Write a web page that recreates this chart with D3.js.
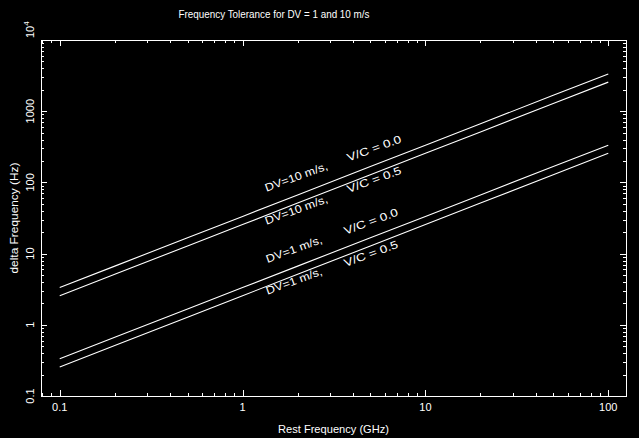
<!DOCTYPE html>
<html><head><meta charset="utf-8">
<script src="https://cdn.jsdelivr.net/npm/d3@7/dist/d3.min.js"></script>
<style>
html,body{margin:0;padding:0;background:#000;}
svg{display:block;}
text{font-family:"Liberation Sans","DejaVu Sans",sans-serif;fill:#fff;}
</style></head>
<body>
<svg id="c" width="639" height="438"></svg>
<script>
// ---- data ----
const freqGHz = [0.1, 0.2, 0.5, 1, 2, 5, 10, 20, 50, 100];
const dv1_vc00 = [0.333, 0.667, 1.67, 3.33, 6.67, 16.7, 33.3, 66.7, 167, 333];
const dv1_vc05 = [0.256, 0.512, 1.28, 2.56, 5.12, 12.8, 25.6, 51.2, 128, 256];
const dv10_vc00 = [3.33, 6.67, 16.7, 33.3, 66.7, 167, 333, 667, 1670, 3330];
const dv10_vc05 = [2.56, 5.12, 12.8, 25.6, 51.2, 128, 256, 512, 1280, 2560];
const xTickVals = [0.1, 1, 10, 100];
const xTickLabels = ["0.1", "1", "10", "100"];
const yTickVals = [0.1, 1, 10, 100, 1000, 10000];
const yTickLabels = ["0.1", "1", "10", "100", "1000", "10^4"];
const labelText = ["DV=10 m/s,", "V/C = 0.0", "DV=10 m/s,", "V/C = 0.5", "DV=1 m/s,", "V/C = 0.0", "DV=1 m/s,", "V/C = 0.5"];
const labelX = [1.35, 3.8, 1.35, 3.8, 1.37, 3.65, 1.37, 3.65];
const labelY = [74, 196, 25.5, 71, 7.4, 18.4, 2.65, 6.5];
const titleText = "Frequency Tolerance for DV = 1 and 10 m/s";
const xTitle = "Rest Frequency (GHz)";
const yTitle = "delta Frequency (Hz)";

// ---- layout ----
const L = 41, R = 626, T = 40, B = 396;
const svg = d3.select("#c");
svg.append("rect").attr("width", 639).attr("height", 438).attr("fill", "#000");
const x = d3.scaleLog().domain([0.079, 125]).range([L, R]);
const y = d3.scaleLog().domain([0.1, 10000]).range([B, T]);

function minors(dom) {
  const out = [];
  for (let e = -3; e <= 5; e++) for (let m = 2; m <= 9; m++) {
    const v = m * Math.pow(10, e);
    if (v >= dom[0] && v <= dom[1]) out.push(v);
  }
  return out;
}
const xMin = minors(x.domain()), yMin = minors(y.domain());

function styleAxis(g) {
  g.select(".domain").remove();
  g.selectAll("line").attr("stroke", "#fff").attr("stroke-width", 1).attr("shape-rendering", "crispEdges");
  g.selectAll("text").remove();
}
// bottom
svg.append("g").attr("transform", `translate(0,${B})`).call(d3.axisBottom(x).tickValues(xTickVals).tickSize(-6)).call(styleAxis);
svg.append("g").attr("transform", `translate(0,${B})`).call(d3.axisBottom(x).tickValues(xMin).tickSize(-3)).call(styleAxis);
// top
svg.append("g").attr("transform", `translate(0,${T})`).call(d3.axisTop(x).tickValues(xTickVals).tickSize(-6)).call(styleAxis);
svg.append("g").attr("transform", `translate(0,${T})`).call(d3.axisTop(x).tickValues(xMin).tickSize(-3)).call(styleAxis);
// left
svg.append("g").attr("transform", `translate(${L},0)`).call(d3.axisLeft(y).tickValues(yTickVals).tickSize(-6)).call(styleAxis);
svg.append("g").attr("transform", `translate(${L},0)`).call(d3.axisLeft(y).tickValues(yMin).tickSize(-3)).call(styleAxis);
// right
svg.append("g").attr("transform", `translate(${R},0)`).call(d3.axisRight(y).tickValues(yTickVals).tickSize(-6)).call(styleAxis);
svg.append("g").attr("transform", `translate(${R},0)`).call(d3.axisRight(y).tickValues(yMin).tickSize(-3)).call(styleAxis);

// frame
svg.append("rect").attr("x", L + 0.5).attr("y", T + 0.5).attr("width", R - L).attr("height", B - T)
  .attr("fill", "none").attr("stroke", "#fff").attr("stroke-width", 1);

// x tick labels
svg.selectAll(".xl").data(xTickVals).enter().append("text")
  .attr("x", d => x(d)).attr("y", 411).attr("text-anchor", "middle")
  .attr("font-size", 11).text((d, i) => xTickLabels[i]);

// y tick labels
yTickVals.forEach((v, i) => {
  const lab = yTickLabels[i];
  if (lab.indexOf("^") >= 0) {
    const [base, ex] = lab.split("^");
    const t = svg.append("text").attr("transform", `translate(34,38) rotate(-90)`)
      .attr("text-anchor", "start").attr("font-size", 11);
    t.append("tspan").text(base);
    t.append("tspan").attr("dy", -5).attr("font-size", 8).text(ex);
  } else {
    svg.append("text").attr("transform", `translate(34,${y(v)}) rotate(-90)`)
      .attr("text-anchor", "middle").attr("font-size", 11).text(lab);
  }
});

// series
const line = d3.line().x(d => x(d[0])).y(d => y(d[1]));
[dv10_vc00, dv10_vc05, dv1_vc00, dv1_vc05].forEach(s => {
  svg.append("path").datum(freqGHz.map((f, i) => [f, s[i]]))
    .attr("d", line).attr("fill", "none").attr("stroke", "#fff").attr("stroke-width", 1.1);
});

// labels on curves
labelText.forEach((t, i) => {
  const len = t.startsWith("DV=10") ? 66 : (t.startsWith("DV=1") ? 59 : 57);
  svg.append("text").attr("transform", `translate(${x(labelX[i])},${y(labelY[i])}) rotate(-20)`)
    .attr("font-size", 11).attr("textLength", len).attr("lengthAdjust", "spacingAndGlyphs").text(t);
});

// titles
svg.append("text").attr("x", 274).attr("y", 18).attr("text-anchor", "middle")
  .attr("font-size", 10.5).attr("textLength", 191).attr("lengthAdjust", "spacingAndGlyphs").text(titleText);
svg.append("text").attr("x", (L + R) / 2).attr("y", 433).attr("text-anchor", "middle")
  .attr("font-size", 10.5).attr("textLength", 111).attr("lengthAdjust", "spacingAndGlyphs").text(xTitle);
svg.append("text").attr("transform", `translate(18,${(T + B) / 2}) rotate(-90)`).attr("text-anchor", "middle")
  .attr("font-size", 10.5).attr("textLength", 111).attr("lengthAdjust", "spacingAndGlyphs").text(yTitle);
</script>
</body></html>
